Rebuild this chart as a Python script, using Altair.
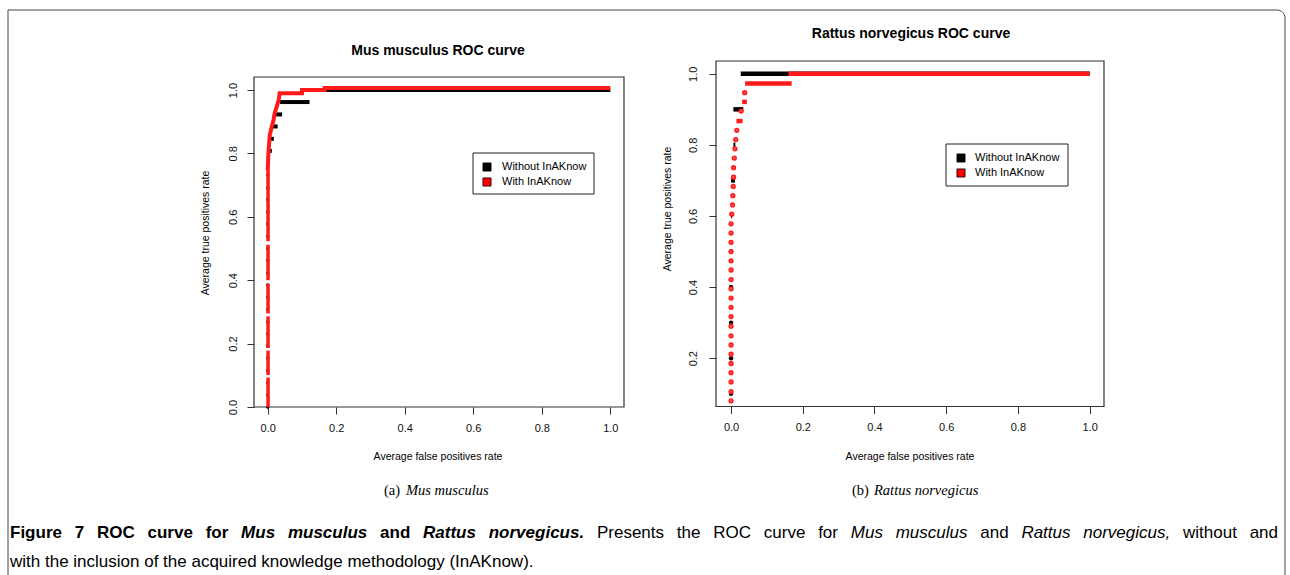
import altair as alt
import pandas as pd

FONT = "Liberation Sans"
SERIF = "Liberation Serif"

# ---------------- data ----------------
TICKS = [0.0, 0.2, 0.4, 0.6, 0.8, 1.0]
RN_YTICKS = [0.2, 0.4, 0.6, 0.8, 1.0]

# Mus musculus, "With InAKnow": run of points at FPR = 0 (separated by small gaps)
mm_with_col_lo = [0.000, 0.101, 0.186, 0.295, 0.400, 0.523]
mm_with_col_hi = [0.093, 0.178, 0.286, 0.388, 0.512, 0.745]
# knee and upper steps of the same curve
mm_with_fpr = [0.000, 0.002, 0.006, 0.012, 0.017, 0.020, 0.027, 0.032, 0.035, 0.100, 0.100, 0.166, 0.166, 1.000]
mm_with_tpr = [0.745, 0.800, 0.858, 0.885, 0.905, 0.925, 0.950, 0.968, 0.990, 0.990, 1.000, 1.000, 1.006, 1.006]

# Mus musculus, "Without InAKnow"
mm_without_col_tpr = [0.000, 0.038, 0.077, 0.115, 0.154, 0.192, 0.231, 0.269, 0.308, 0.346,
                      0.385, 0.423, 0.462, 0.500, 0.538, 0.577, 0.615, 0.654, 0.692, 0.731, 0.769]
mm_without_step_tpr = [0.808, 0.846, 0.885, 0.923, 0.962, 1.000]
mm_without_step_lo = [0.005, 0.003, 0.013, 0.020, 0.036, 0.122]
mm_without_step_hi = [0.012, 0.018, 0.029, 0.042, 0.122, 1.000]

# Rattus norvegicus, "With InAKnow"
rn_with_dot_tpr = [0.080, 0.106, 0.133, 0.159, 0.185, 0.211, 0.237, 0.263, 0.290, 0.317,
                   0.343, 0.369, 0.395, 0.421, 0.448, 0.474, 0.500, 0.526, 0.552, 0.578,
                   0.605, 0.631, 0.657, 0.683, 0.709, 0.736, 0.763, 0.789, 0.815, 0.841,
                   0.895, 0.947]
rn_with_dot_fpr = [0.000, 0.000, 0.000, 0.000, 0.000, 0.000, 0.000, 0.000, 0.000, 0.000,
                   0.000, 0.000, 0.000, 0.000, 0.000, 0.000, 0.000, 0.000, 0.000, 0.000,
                   0.002, 0.004, 0.005, 0.006, 0.007, 0.007, 0.009, 0.011, 0.013, 0.016,
                   0.028, 0.038]
rn_with_seg_tpr = [0.867, 0.921, 0.973, 1.000]
rn_with_seg_lo = [0.015, 0.031, 0.039, 0.160]
rn_with_seg_hi = [0.032, 0.044, 0.169, 1.000]

# Rattus norvegicus, "Without InAKnow"
rn_without_dot_tpr = [0.1, 0.2, 0.3, 0.4, 0.5]
rn_without_dot_fpr = [0.000, 0.000, 0.000, 0.000, 0.000]
rn_without_seg_tpr = [0.6, 0.7, 0.8, 0.9, 1.0]
rn_without_seg_lo = [0.000, 0.000, 0.0065, 0.0065, 0.027]
rn_without_seg_hi = [0.003, 0.011, 0.012, 0.034, 1.000]

legend_labels = ["Without InAKnow", "With InAKnow"]
legend_colors = ["black", "red"]

# caption words: (word, style) with b = bold, bi = bold italic, r = regular, i = italic
caption_line1 = [("Figure", "b"), ("7", "b"), ("ROC", "b"), ("curve", "b"), ("for", "b"),
                 ("Mus", "bi"), ("musculus", "bi"), ("and", "b"), ("Rattus", "bi"),
                 ("norvegicus.", "bi"), ("Presents", "r"), ("the", "r"), ("ROC", "r"),
                 ("curve", "r"), ("for", "r"), ("Mus", "i"), ("musculus", "i"), ("and", "r"),
                 ("Rattus", "i"), ("norvegicus,", "i"), ("without", "r"), ("and", "r")]
caption_line2 = "with the inclusion of the acquired knowledge methodology (InAKnow)."

# ---------------- panel geometry ----------------
W, H = 1290, 575
MM = dict(xdom=[-0.04, 1.04], ydom=[0.0, 1.041], xr=[254, 624], yr=[407, 77], lpad=14)
RN = dict(xdom=[-0.042, 1.04], ydom=[0.064, 1.036], xr=[716, 1104], yr=[406.5, 61], lpad=16)


def scales(g):
    xs = alt.Scale(domain=g["xdom"], range=g["xr"], nice=False, zero=False)
    ys = alt.Scale(domain=g["ydom"], range=g["yr"], nice=False, zero=False)
    return xs, ys


def axes(g, yvals):
    common = dict(domain=False, grid=False, tickSize=7, tickColor="#333", tickWidth=1,
                  labelFont=FONT, labelFontSize=11, labelColor="#111", format=".1f",
                  labelFlush=False, labelOverlap=False, title=None)
    ax = alt.Axis(orient="bottom", offset=g["yr"][0] - H, values=TICKS,
                  labelPadding=14, labelBaseline="middle", **common)
    ay = alt.Axis(orient="left", offset=-g["xr"][0], values=yvals, labelAngle=270,
                  labelAlign="center", labelBaseline="middle", labelPadding=g["lpad"], **common)
    return ax, ay


def panel(g, yvals, layers):
    xs, ys = scales(g)
    ax, ay = axes(g, yvals)
    frame_df = pd.DataFrame({"x0": [g["xdom"][0]], "x1": [g["xdom"][1]],
                             "y0": [g["ydom"][0]], "y1": [g["ydom"][1]]})
    frame = alt.Chart(frame_df).mark_rect(fillOpacity=0, stroke="#333", strokeWidth=1.2).encode(
        x=alt.X("x0:Q", scale=xs, axis=ax), x2="x1:Q",
        y=alt.Y("y0:Q", scale=ys, axis=ay), y2="y1:Q")
    out = [frame]
    for kind, df, mark in layers:
        if kind == "hrule":
            out.append(alt.Chart(df).mark_rule(**mark).encode(
                x=alt.X("lo:Q", scale=xs, axis=ax), x2="hi:Q",
                y=alt.Y("tpr:Q", scale=ys, axis=ay)))
        elif kind == "vrule":
            out.append(alt.Chart(df).mark_rule(**mark).encode(
                x=alt.X("fpr:Q", scale=xs, axis=ax),
                y=alt.Y("lo:Q", scale=ys, axis=ay), y2="hi:Q"))
        elif kind == "line":
            out.append(alt.Chart(df).mark_line(**mark).encode(
                x=alt.X("fpr:Q", scale=xs, axis=ax),
                y=alt.Y("tpr:Q", scale=ys, axis=ay), order="i:Q"))
        elif kind == "point":
            out.append(alt.Chart(df).mark_circle(**mark).encode(
                x=alt.X("fpr:Q", scale=xs, axis=ax),
                y=alt.Y("tpr:Q", scale=ys, axis=ay)))
    return alt.layer(*out)


RED = "#ff1a1a"

mm_layers = [
    ("point", pd.DataFrame({"fpr": [0.0] * len(mm_without_col_tpr), "tpr": mm_without_col_tpr}),
     dict(fill="black", size=12, opacity=1)),
    ("hrule", pd.DataFrame({"lo": mm_without_step_lo, "hi": mm_without_step_hi, "tpr": mm_without_step_tpr}),
     dict(color="black", strokeWidth=4)),
    ("vrule", pd.DataFrame({"fpr": [0.001] * len(mm_with_col_lo), "lo": mm_with_col_lo, "hi": mm_with_col_hi}),
     dict(color=RED, strokeWidth=3.5)),
    ("line", pd.DataFrame({"fpr": mm_with_fpr, "tpr": mm_with_tpr, "i": list(range(len(mm_with_fpr)))}),
     dict(color=RED, strokeWidth=4, interpolate="linear")),
]

rn_layers = [
    ("point", pd.DataFrame({"fpr": rn_without_dot_fpr, "tpr": rn_without_dot_tpr}),
     dict(fill="black", size=20, opacity=1)),
    ("hrule", pd.DataFrame({"lo": rn_without_seg_lo, "hi": rn_without_seg_hi, "tpr": rn_without_seg_tpr}),
     dict(color="black", strokeWidth=4.5)),
    ("point", pd.DataFrame({"fpr": rn_with_dot_fpr, "tpr": rn_with_dot_tpr}),
     dict(fill="#ff5050", stroke=RED, strokeWidth=1.4, size=15, opacity=1)),
    ("hrule", pd.DataFrame({"lo": rn_with_seg_lo, "hi": rn_with_seg_hi, "tpr": rn_with_seg_tpr}),
     dict(color=RED, strokeWidth=4.5)),
]

mm_panel = panel(MM, TICKS, mm_layers)
rn_panel = panel(RN, RN_YTICKS, rn_layers)

ONE = pd.DataFrame({"k": [0]})


def text(txt, x, y, size, font=FONT, weight="normal", style="normal", align="left",
         angle=0, baseline="middle", color="black"):
    return alt.Chart(pd.DataFrame({"t": [txt]})).mark_text(
        align=align, baseline=baseline, font=font, fontSize=size, fontWeight=weight,
        fontStyle=style, angle=angle, color=color).encode(
        x=alt.value(x), y=alt.value(y), text="t:N")


def box(x0, x1, y0, y1, stroke="#222", width=1):
    return alt.Chart(ONE).mark_rect(fill="white", stroke=stroke, strokeWidth=width).encode(
        x=alt.value(x0), x2=alt.value(x1), y=alt.value(y0), y2=alt.value(y1))


def legend(x0, x1, y0, y1, sq_x, txt_x, rows_y):
    parts = [box(x0, x1, y0, y1)]
    for lab, col, ry in zip(legend_labels, legend_colors, rows_y):
        parts.append(alt.Chart(ONE).mark_square(size=66, fill=col, stroke="black", strokeWidth=0.8,
                                               opacity=1).encode(x=alt.value(sq_x), y=alt.value(ry)))
        parts.append(text(lab, txt_x, ry, 11))
    return parts


# Arial / Liberation Sans advance widths (em) used to justify the caption's first line
REG_W = {" ": .278, ",": .278, ".": .278, "(": .333, ")": .333, "7": .556, "A": .667, "C": .722,
         "F": .611, "I": .278, "K": .667, "M": .833, "O": .778, "P": .667, "R": .722,
         "a": .556, "c": .5, "d": .556, "e": .556, "f": .278, "g": .556, "h": .556, "i": .222,
         "k": .5, "l": .222, "m": .833, "n": .556, "o": .556, "q": .556, "r": .333, "s": .5,
         "t": .278, "u": .556, "v": .5, "w": .722, "y": .5}
BOLD_W = {" ": .278, ",": .278, ".": .278, "7": .556, "C": .722, "F": .611, "M": .833, "O": .778,
          "R": .722, "a": .556, "c": .556, "d": .611, "e": .556, "f": .333, "g": .611, "i": .278,
          "l": .278, "m": .889, "n": .611, "o": .611, "r": .389, "s": .556, "t": .333, "u": .611,
          "v": .556}

CAP_SIZE = 17
CAP_LEFT, CAP_RIGHT = 10, 1278


def word_width(w, style):
    table = BOLD_W if style.startswith("b") else REG_W
    return sum(table[c] for c in w) * CAP_SIZE


outer = alt.Chart(ONE).mark_rect(fillOpacity=0, stroke="#444", strokeWidth=1,
                                 cornerRadiusTopRight=8).encode(
    x=alt.value(8), x2=alt.value(1285), y=alt.value(10), y2=alt.value(640))

annotations = [outer]
annotations += legend(473, 594, 153, 194, 487, 502, [167, 182])
annotations += legend(946, 1068, 144, 186, 961, 975, [158, 173])
annotations += [
    text("Mus musculus ROC curve", 438, 51, 14, weight="bold", align="center"),
    text("Rattus norvegicus ROC curve", 911, 34, 14, weight="bold", align="center"),
    text("Average false positives rate", 438, 457, 10.5, align="center"),
    text("Average false positives rate", 910, 457, 10.5, align="center"),
    text("Average true positives rate", 206, 233, 10.5, align="center", angle=270),
    text("Average true positives rate", 668, 209, 10.5, align="center", angle=270),
    text("(a)", 384, 491, 14.5, font=SERIF),
    text("Mus musculus", 406, 491, 14.5, font=SERIF, style="italic"),
    text("(b)", 852, 491, 14.5, font=SERIF),
    text("Rattus norvegicus", 874, 491, 14.5, font=SERIF, style="italic"),
]

# justified first caption line: equal spacing between words
widths = [word_width(w, s) for w, s in caption_line1]
gap = (CAP_RIGHT - CAP_LEFT - sum(widths)) / (len(widths) - 1)
xpos = CAP_LEFT
for (w, s), wd in zip(caption_line1, widths):
    annotations.append(text(w, xpos, 533, CAP_SIZE,
                            weight="bold" if s.startswith("b") else "normal",
                            style="italic" if s.endswith("i") else "normal"))
    xpos += wd + gap
annotations.append(text(caption_line2, CAP_LEFT, 562, CAP_SIZE))

chart = alt.layer(mm_panel, rn_panel, *annotations).resolve_scale(
    x="independent", y="independent"
).properties(
    width=W, height=H, autosize=alt.AutoSizeParams(type="none"), padding=0,
    background="white"
).configure_view(stroke=None)

chart.save("out.html", embed_options={"renderer": "svg", "actions": False})
